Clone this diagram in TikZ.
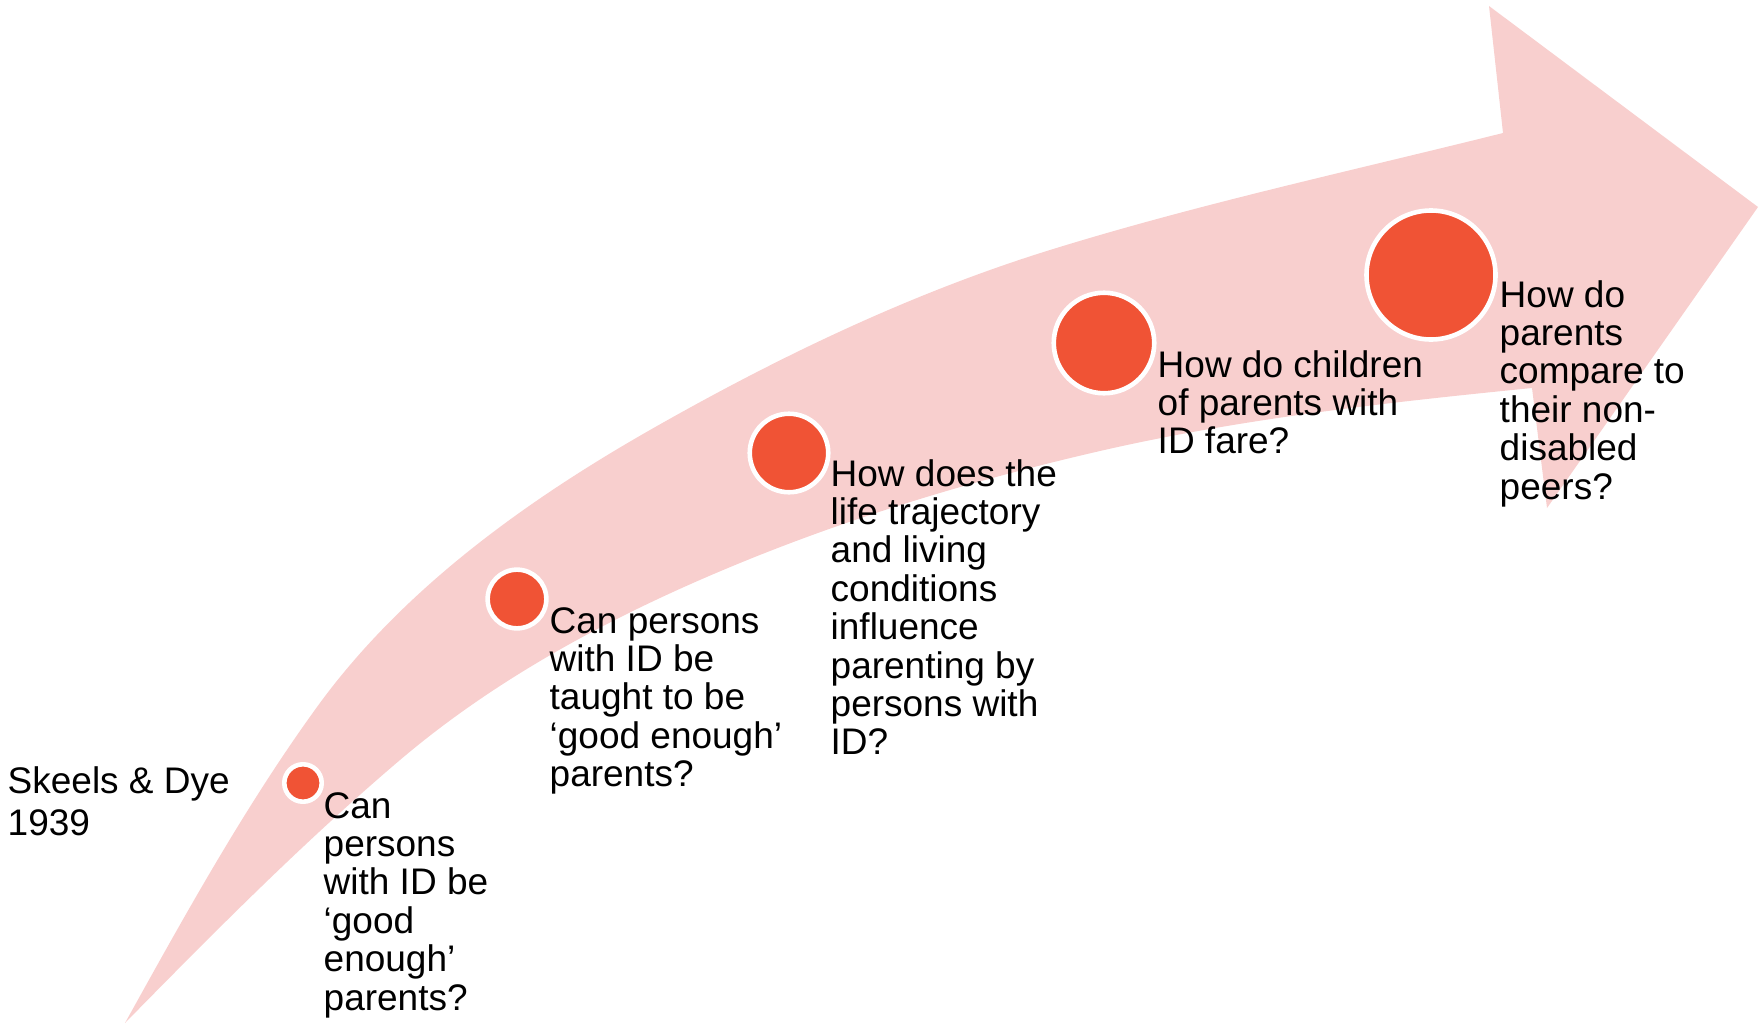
\documentclass[tikz,border=0pt]{standalone}
\usepackage{fontspec}
\setmainfont{Liberation Sans}
\definecolor{bandpink}{RGB}{248,207,206}
\definecolor{dotred}{RGB}{240,83,53}
\begin{document}
\begin{tikzpicture}[x=1pt,y=-1pt,
  dot/.style={circle, fill=dotred, draw=white, line width=4.6pt, inner sep=0pt},
  qtext/.style={anchor=north west, inner sep=0pt, align=left,
    font=\fontsize{37}{38.4}\selectfont}]
\useasboundingbox (0,0) rectangle (1761,1025);

% curved band ending in a broad arrow head
\fill[bandpink]
  (125,1023)
  .. controls (184.7,915.5) and (244.8,806.6) .. (317,707)
  .. controls (401.7,590.1) and (524.6,501.5) .. (650,430)
  .. controls (777,357.6) and (910.4,293.3) .. (1050,250)
  .. controls (1199,203.8) and (1351.7,170.8) .. (1503,133)
  -- (1489,6) -- (1758,207) -- (1547,508) -- (1532,388)
  .. controls (1387.2,402.5) and (1241.8,418.4) .. (1100,451)
  .. controls (977.5,479.2) and (856.3,515.3) .. (740,563)
  .. controls (618.8,612.7) and (499.8,675.2) .. (400,760)
  .. controls (303.4,842.1) and (213.8,932.5) .. (125,1023)
  -- cycle;

% milestones, growing along the band
\node[dot, minimum size=37.4pt] (d1) at (303,783) {};
\node[dot, minimum size=58.7pt] (d2) at (517,599) {};
\node[dot, minimum size=78.5pt] (d3) at (789,453) {};
\node[dot, minimum size=100.5pt] (d4) at (1104,343) {};
\node[dot, minimum size=129pt] (d5) at (1431,275) {};

% questions
\node[qtext, font=\fontsize{37}{42}\selectfont] (src) at (7.5,766) {Skeels \& Dye\\1939};
\node[qtext] (q1) at (323.5,792) {Can\\persons\\with ID be\\‘good\\enough’\\parents?};
\node[qtext] (q2) at (549.5,607) {Can persons\\with ID be\\taught to be\\‘good enough’\\parents?};
\node[qtext] (q3) at (830.5,459) {How does the\\life trajectory\\and living\\conditions\\influence\\parenting by\\persons with\\ID?};
\node[qtext] (q4) at (1157.5,350) {How do children\\of parents with\\ID fare?};
\node[qtext] (q5) at (1499.5,280) {How do\\parents\\compare to\\their non-\\disabled\\peers?};
\end{tikzpicture}
\end{document}
